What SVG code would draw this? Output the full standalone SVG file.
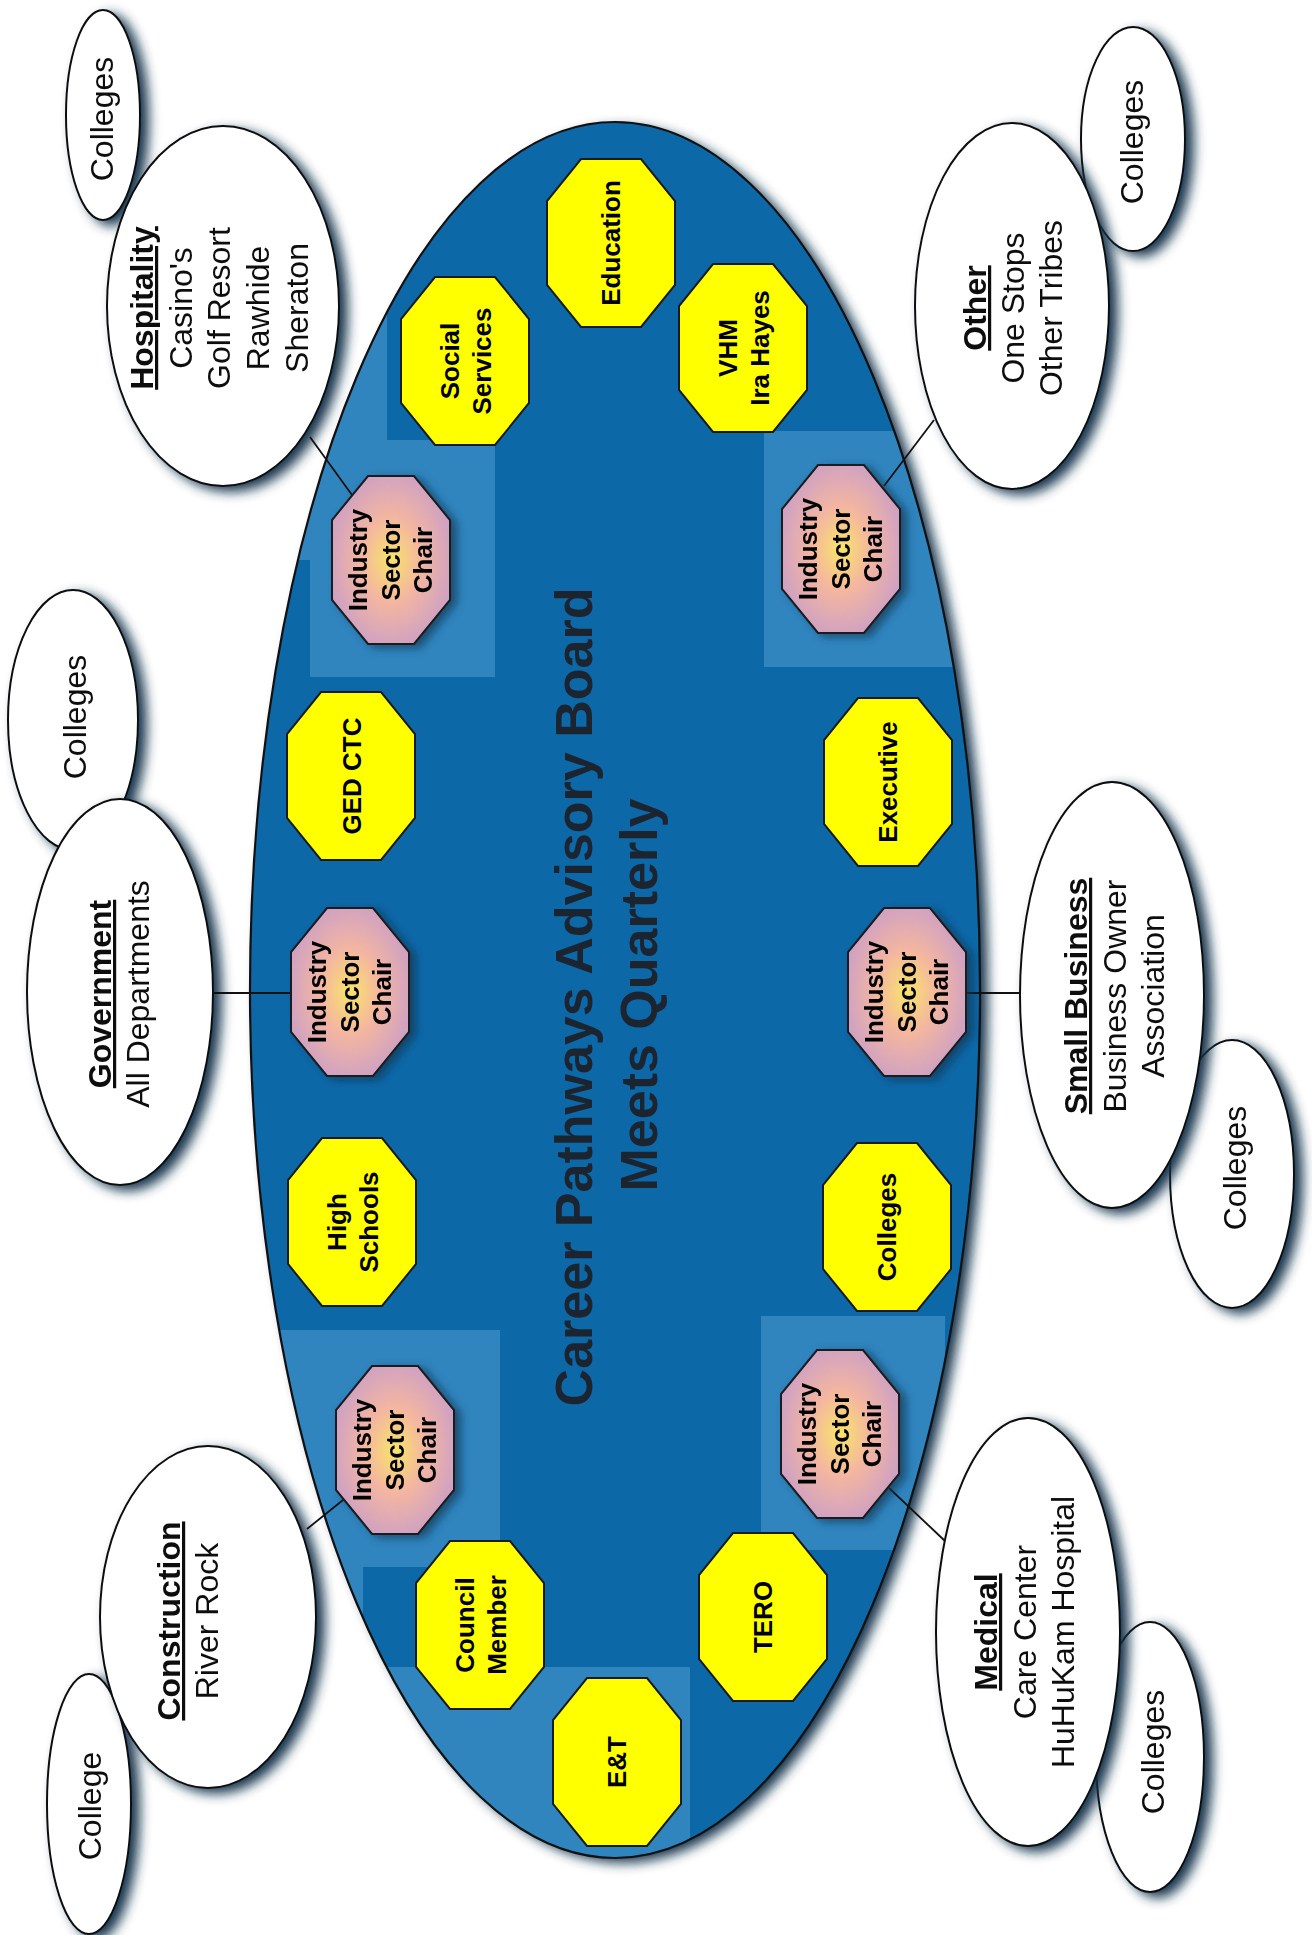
<svg xmlns="http://www.w3.org/2000/svg" width="1312" height="1935" viewBox="0 0 1312 1935">
<style>
.wel{fill:#ffffff;stroke:#111;stroke-width:2}
.yo{fill:#ffff00;stroke:#1a1a1a;stroke-width:2}
.co{fill:url(#chairGrad);stroke:#1a1a1a;stroke-width:2}
.ot{font-family:"Liberation Sans",Arial,sans-serif;font-weight:bold;font-size:26px;fill:#000;text-anchor:middle}
.et{font-family:"Liberation Sans",Arial,sans-serif;font-size:32px;fill:#111;text-anchor:middle}
.b{font-weight:bold}
.u{text-decoration:underline}
.title{font-family:"Liberation Sans",Arial,sans-serif;font-weight:bold;font-size:52px;fill:#1c2430;text-anchor:middle}
.conn{stroke:#111;stroke-width:1.8;fill:none}
.lite{fill:#3a8cc4;opacity:0.8}
</style>
<defs>
<filter id="sh" x="-25%" y="-15%" width="160%" height="135%">
<feGaussianBlur in="SourceAlpha" stdDeviation="6" result="bl"/>
<feOffset in="bl" dx="8" dy="5" result="of"/>
<feFlood flood-color="#0f2f48" flood-opacity="0.95"/>
<feComposite in2="of" operator="in" result="shd"/>
<feMerge><feMergeNode in="shd"/><feMergeNode in="SourceGraphic"/></feMerge>
</filter>
<filter id="sh2" x="-20%" y="-20%" width="150%" height="150%">
<feGaussianBlur in="SourceAlpha" stdDeviation="4" result="bl"/>
<feOffset in="bl" dx="6" dy="3" result="of"/>
<feFlood flood-color="#123550" flood-opacity="0.7"/>
<feComposite in2="of" operator="in" result="shd"/>
<feMerge><feMergeNode in="shd"/><feMergeNode in="SourceGraphic"/></feMerge>
</filter>
<radialGradient id="chairGrad" cx="50%" cy="50%" r="60%">
<stop offset="0" stop-color="#f8e46a"/>
<stop offset="0.42" stop-color="#f4b6a0"/>
<stop offset="1" stop-color="#c69ccb"/>
</radialGradient>
<clipPath id="tableClip"><ellipse cx="615" cy="990" rx="365" ry="868"/></clipPath>
<polygon id="yoct" points="-30,-84 30,-84 64,-42 64,42 30,84 -30,84 -64,42 -64,-42"/>
<polygon id="coct" points="-23,-84 23,-84 59,-40 59,40 23,84 -23,84 -59,40 -59,-40"/>
</defs>
<rect width="1312" height="1935" fill="#ffffff"/>

<!-- Back "Colleges" ellipses -->
<g id="colleges-hospitality" filter="url(#sh)">
<ellipse class="wel" cx="103" cy="115" rx="37" ry="105"/>
<text class="et" transform="translate(113,119) rotate(-90)">Colleges</text>
</g>
<g id="colleges-government" filter="url(#sh)">
<ellipse class="wel" cx="73" cy="720" rx="65" ry="130"/>
<text class="et" transform="translate(86,717) rotate(-90)">Colleges</text>
</g>
<g id="colleges-other" filter="url(#sh)">
<ellipse class="wel" cx="1133" cy="139" rx="52" ry="112"/>
<text class="et" transform="translate(1143,142) rotate(-90)">Colleges</text>
</g>
<g id="colleges-smallbusiness" filter="url(#sh)">
<ellipse class="wel" cx="1232" cy="1174" rx="62" ry="134"/>
<text class="et" transform="translate(1246,1168) rotate(-90)">Colleges</text>
</g>
<g id="college-construction" filter="url(#sh)">
<ellipse class="wel" cx="89" cy="1804" rx="42" ry="130"/>
<text class="et" transform="translate(101,1806) rotate(-90)">College</text>
</g>
<g id="colleges-medical" filter="url(#sh)">
<ellipse class="wel" cx="1150" cy="1757" rx="54" ry="135"/>
<text class="et" transform="translate(1164,1752) rotate(-90)">Colleges</text>
</g>

<!-- Sector ellipses -->
<g id="hospitality" filter="url(#sh)">
<ellipse class="wel" cx="223" cy="306" rx="116" ry="180"/>
<text class="et" transform="translate(153,308) rotate(-90)"><tspan x="0" y="0" class="b u">Hospitality</tspan><tspan x="0" y="38.5">Casino's</tspan><tspan x="0" y="77">Golf Resort</tspan><tspan x="0" y="116">Rawhide</tspan><tspan x="0" y="155">Sheraton</tspan></text>
</g>
<g id="government" filter="url(#sh)">
<ellipse class="wel" cx="120" cy="992" rx="93" ry="193"/>
<text class="et" transform="translate(111,994) rotate(-90)"><tspan x="0" y="0" class="b u">Government</tspan><tspan x="0" y="38">All Departments</tspan></text>
</g>
<g id="other" filter="url(#sh)">
<ellipse class="wel" cx="1012" cy="306" rx="97" ry="183"/>
<text class="et" transform="translate(986,308) rotate(-90)"><tspan x="0" y="0" class="b u">Other</tspan><tspan x="0" y="38">One Stops</tspan><tspan x="0" y="76">Other Tribes</tspan></text>
</g>
<g id="smallbusiness" filter="url(#sh)">
<ellipse class="wel" cx="1112" cy="995" rx="92" ry="213"/>
<text class="et" transform="translate(1087,996) rotate(-90)"><tspan x="0" y="0" class="b u">Small Business</tspan><tspan x="0" y="39">Business Owner</tspan><tspan x="0" y="77">Association</tspan></text>
</g>
<g id="construction" filter="url(#sh)">
<ellipse class="wel" cx="208" cy="1617" rx="108" ry="171"/>
<text class="et" transform="translate(180,1621) rotate(-90)"><tspan x="0" y="0" class="b u">Construction</tspan><tspan x="0" y="38">River Rock</tspan></text>
</g>
<g id="medical" filter="url(#sh)">
<ellipse class="wel" cx="1028" cy="1632" rx="92" ry="214"/>
<text class="et" transform="translate(997,1632) rotate(-90)"><tspan x="0" y="0" class="b u">Medical</tspan><tspan x="0" y="39">Care Center</tspan><tspan x="0" y="77">HuHuKam Hospital</tspan></text>
</g>

<!-- Table -->
<g id="table">
<ellipse cx="615" cy="990" rx="365" ry="868" fill="#0d68a8" filter="url(#sh)"/>
<g clip-path="url(#tableClip)">
<path class="lite" d="M250,250 H387 V440 H495 V677 H310 V560 H250 Z"/>
<rect class="lite" x="764" y="431" width="200" height="236"/>
<path class="lite" d="M250,1330 H500 V1567 H363 V1667 H690 V1900 H250 Z"/>
<rect class="lite" x="761" y="1316" width="184" height="234"/>
</g>
<ellipse cx="615" cy="990" rx="365" ry="868" fill="none" stroke="#111" stroke-width="2.2"/>
<text class="title" transform="translate(592,997) rotate(-90)">Career Pathways Advisory Board</text>
<text class="title" transform="translate(657,995) rotate(-90)">Meets Quarterly</text>
</g>

<!-- Connectors -->
<g id="connectors">
<line class="conn" x1="310" y1="437" x2="352" y2="495"/>
<line class="conn" x1="934" y1="420" x2="884" y2="486"/>
<line class="conn" x1="213" y1="993" x2="291" y2="993"/>
<line class="conn" x1="963" y1="993" x2="1020" y2="993"/>
<line class="conn" x1="307" y1="1529" x2="348" y2="1496"/>
<line class="conn" x1="889" y1="1488" x2="945" y2="1541"/>
</g>

<!-- Octagon seats -->
<g id="education"><use href="#yoct" class="yo" transform="translate(611,243)"/><text class="ot" transform="translate(620,243) rotate(-90)">Education</text></g>
<g id="social-services"><use href="#yoct" class="yo" transform="translate(465,361)"/><text class="ot" transform="translate(465,361) rotate(-90)"><tspan x="0" y="-6">Social</tspan><tspan x="0" y="26">Services</tspan></text></g>
<g id="vhm"><use href="#yoct" class="yo" transform="translate(743,348)"/><text class="ot" transform="translate(743,348) rotate(-90)"><tspan x="0" y="-6">VHM</tspan><tspan x="0" y="26">Ira Hayes</tspan></text></g>
<g id="chair-hospitality" filter="url(#sh2)"><use href="#coct" class="co" transform="translate(391,560)"/><text class="ot" transform="translate(391,560) rotate(-90)"><tspan x="0" y="-24">Industry</tspan><tspan x="0" y="9">Sector</tspan><tspan x="0" y="41">Chair</tspan></text></g>
<g id="chair-other" filter="url(#sh2)"><use href="#coct" class="co" transform="translate(841,549)"/><text class="ot" transform="translate(841,549) rotate(-90)"><tspan x="0" y="-24">Industry</tspan><tspan x="0" y="9">Sector</tspan><tspan x="0" y="41">Chair</tspan></text></g>
<g id="ged-ctc"><use href="#yoct" class="yo" transform="translate(351,776)"/><text class="ot" transform="translate(361,776) rotate(-90)">GED CTC</text></g>
<g id="executive"><use href="#yoct" class="yo" transform="translate(888,782)"/><text class="ot" transform="translate(897,782) rotate(-90)">Executive</text></g>
<g id="chair-government" filter="url(#sh2)"><use href="#coct" class="co" transform="translate(350,992)"/><text class="ot" transform="translate(350,992) rotate(-90)"><tspan x="0" y="-24">Industry</tspan><tspan x="0" y="9">Sector</tspan><tspan x="0" y="41">Chair</tspan></text></g>
<g id="chair-smallbusiness" filter="url(#sh2)"><use href="#coct" class="co" transform="translate(907,992)"/><text class="ot" transform="translate(907,992) rotate(-90)"><tspan x="0" y="-24">Industry</tspan><tspan x="0" y="9">Sector</tspan><tspan x="0" y="41">Chair</tspan></text></g>
<g id="high-schools"><use href="#yoct" class="yo" transform="translate(352,1222)"/><text class="ot" transform="translate(352,1222) rotate(-90)"><tspan x="0" y="-6">High</tspan><tspan x="0" y="26">Schools</tspan></text></g>
<g id="colleges-seat"><use href="#yoct" class="yo" transform="translate(887,1227)"/><text class="ot" transform="translate(896,1227) rotate(-90)">Colleges</text></g>
<g id="chair-construction" filter="url(#sh2)"><use href="#coct" class="co" transform="translate(395,1450)"/><text class="ot" transform="translate(395,1450) rotate(-90)"><tspan x="0" y="-24">Industry</tspan><tspan x="0" y="9">Sector</tspan><tspan x="0" y="41">Chair</tspan></text></g>
<g id="chair-medical" filter="url(#sh2)"><use href="#coct" class="co" transform="translate(840,1434)"/><text class="ot" transform="translate(840,1434) rotate(-90)"><tspan x="0" y="-24">Industry</tspan><tspan x="0" y="9">Sector</tspan><tspan x="0" y="41">Chair</tspan></text></g>
<g id="council-member"><use href="#yoct" class="yo" transform="translate(480,1625)"/><text class="ot" transform="translate(480,1625) rotate(-90)"><tspan x="0" y="-6">Council</tspan><tspan x="0" y="26">Member</tspan></text></g>
<g id="tero"><use href="#yoct" class="yo" transform="translate(763,1617)"/><text class="ot" transform="translate(772,1617) rotate(-90)">TERO</text></g>
<g id="e-and-t"><use href="#yoct" class="yo" transform="translate(617,1762)"/><text class="ot" transform="translate(626,1762) rotate(-90)">E&amp;T</text></g>
</svg>
